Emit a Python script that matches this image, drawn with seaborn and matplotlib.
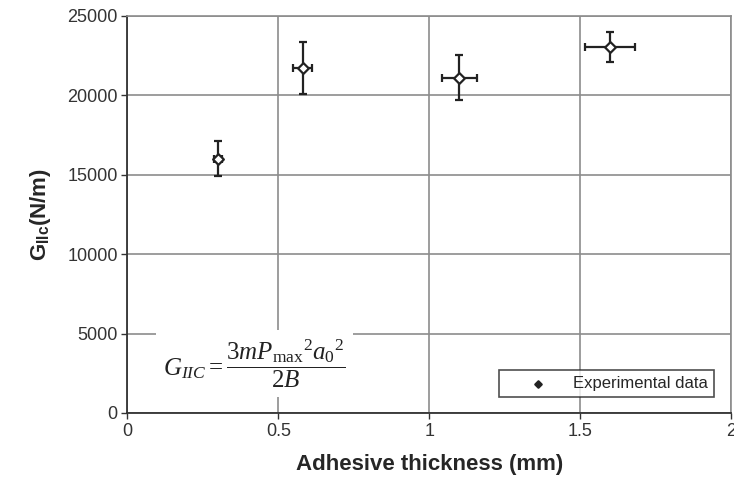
import matplotlib
matplotlib.use("Agg")
import matplotlib.pyplot as plt
import seaborn as sns
import pandas as pd

# Data
thickness = [0.30, 0.58, 1.10, 1.60]
giic = [16000, 21700, 21100, 23050]
giic_err = [1100, 1650, 1400, 950]
thickness_err = [0.012, 0.03, 0.058, 0.083]
x_ticks = [0, 0.5, 1, 1.5, 2]
x_tick_labels = ["0", "0.5", "1", "1.5", "2"]
y_ticks = [0, 5000, 10000, 15000, 20000, 25000]

sns.set_theme(style="whitegrid")
plt.rcParams["font.family"] = ["Liberation Sans", "DejaVu Sans"]
plt.rcParams["mathtext.fontset"] = "custom"
plt.rcParams["mathtext.rm"] = "Liberation Serif"
plt.rcParams["mathtext.it"] = "Liberation Serif:italic"
plt.rcParams["mathtext.bf"] = "Liberation Sans:bold"

df = pd.DataFrame({"t": thickness, "g": giic})

fig = plt.figure(figsize=(7.34, 4.84), dpi=100)
ax = fig.add_axes([0.1737, 0.1467, 0.8223, 0.8209])

ax.errorbar(thickness, giic, yerr=giic_err, xerr=thickness_err, fmt="none",
            ecolor="#222222", elinewidth=1.6, capsize=3, capthick=1.6, zorder=3)
sns.scatterplot(data=df, x="t", y="g", ax=ax, marker="D", s=30, color="white",
                edgecolor="#222222", linewidth=1.6, zorder=4, label="Experimental data")

ax.set_xlim(0, 2)
ax.set_ylim(0, 25000)
ax.set_xticks(x_ticks)
ax.set_xticklabels(x_tick_labels)
ax.set_yticks(y_ticks)
ax.grid(True, color="#8c8c8c", linewidth=1.2)
ax.tick_params(axis="both", which="both", direction="out", length=4, width=1,
               color="#333333", labelsize=13, labelcolor="#333333", pad=3,
               left=True, bottom=True)
for side in ["left", "bottom"]:
    ax.spines[side].set_color("#333333")
    ax.spines[side].set_linewidth(1.3)
for side in ["top", "right"]:
    ax.spines[side].set_color("#8c8c8c")
    ax.spines[side].set_linewidth(1.2)

ax.set_xlabel("Adhesive thickness (mm)", fontsize=16, fontweight="bold", labelpad=10)
ax.set_ylabel(r"G$_{\mathbf{IIc}}$(N/m)", fontsize=16, fontweight="bold", labelpad=10)

ax.text(0.42, 3100, r"$G_{IIC} = \dfrac{3mP_{\max}{}^{2}a_{0}{}^{2}}{2B}$",
        fontsize=18, ha="center", va="center", color="#222222",
        bbox=dict(facecolor="white", edgecolor="none", pad=5), zorder=5)

leg = ax.legend(loc="lower right", frameon=True, fancybox=False, fontsize=12,
                handletextpad=0.1, borderpad=0.35, markerscale=0.6, handlelength=4.0,
                bbox_to_anchor=(0.985, 0.02))
leg.get_frame().set_edgecolor("#222222")
leg.get_frame().set_linewidth(1.2)
for h in leg.legend_handles:
    h.set_facecolor("#222222")

fig.savefig("out.png", dpi=100)
